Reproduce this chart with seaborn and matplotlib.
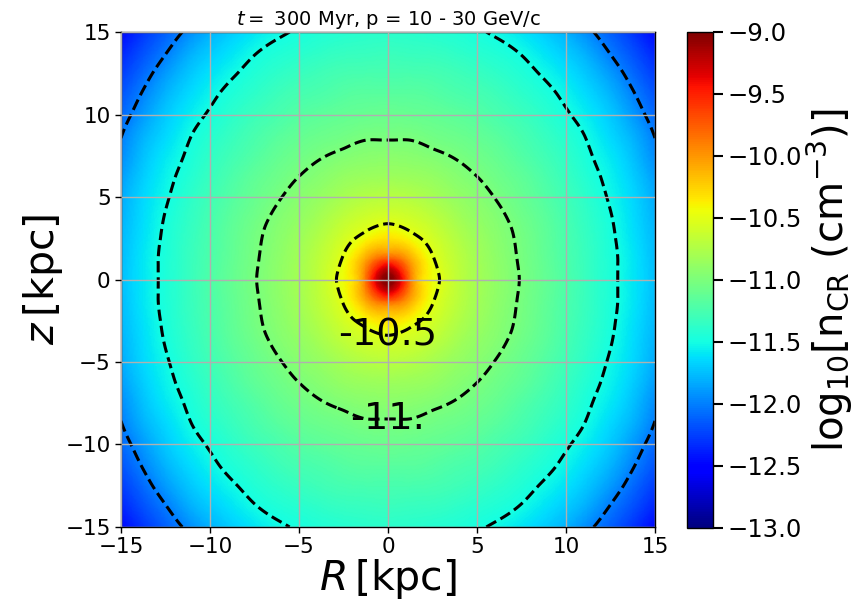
import numpy as np
import matplotlib
matplotlib.use("Agg")
import matplotlib.pyplot as plt
import matplotlib.tri as mtri
import seaborn as sns

# ---- data (one quadrant, R >= 0, z >= 0; the map is mirror-symmetric) ----
r_nodes = [0, 1.25, 2.5, 3.75, 5, 6.25, 7.5, 8.75, 10, 11.25, 12.5, 13.75, 15]   # kpc
z_nodes = [0, 1.25, 2.5, 3.75, 5, 6.25, 7.5, 8.75, 10, 11.25, 12.5, 13.75, 15]   # kpc
# log10 n_CR ; one list per z node, entries follow r_nodes
logn_z00p00 = [-9.00, -9.86, -10.44, -10.65, -10.80, -10.91, -11.01, -11.11, -11.22, -11.34, -11.46, -11.59, -11.75]
logn_z01p25 = [-9.72, -10.07, -10.48, -10.67, -10.81, -10.92, -11.02, -11.12, -11.23, -11.34, -11.46, -11.59, -11.76]
logn_z02p50 = [-10.32, -10.42, -10.58, -10.72, -10.84, -10.94, -11.03, -11.13, -11.24, -11.35, -11.47, -11.61, -11.77]
logn_z03p75 = [-10.56, -10.60, -10.68, -10.79, -10.89, -10.97, -11.06, -11.15, -11.26, -11.37, -11.49, -11.63, -11.80]
logn_z05p00 = [-10.71, -10.73, -10.79, -10.87, -10.94, -11.02, -11.10, -11.19, -11.29, -11.40, -11.52, -11.65, -11.83]
logn_z06p25 = [-10.84, -10.85, -10.88, -10.94, -11.00, -11.07, -11.14, -11.23, -11.33, -11.44, -11.55, -11.69, -11.88]
logn_z07p50 = [-10.93, -10.94, -10.97, -11.01, -11.06, -11.12, -11.20, -11.28, -11.37, -11.48, -11.59, -11.74, -11.95]
logn_z08p75 = [-11.02, -11.02, -11.05, -11.08, -11.12, -11.18, -11.25, -11.33, -11.42, -11.52, -11.65, -11.80, -12.01]
logn_z10p00 = [-11.09, -11.10, -11.12, -11.15, -11.19, -11.25, -11.31, -11.39, -11.48, -11.58, -11.71, -11.89, -12.09]
logn_z11p25 = [-11.17, -11.17, -11.19, -11.23, -11.26, -11.31, -11.38, -11.45, -11.54, -11.65, -11.79, -11.98, -12.17]
logn_z12p50 = [-11.25, -11.25, -11.26, -11.29, -11.33, -11.38, -11.44, -11.52, -11.61, -11.73, -11.89, -12.08, -12.26]
logn_z13p75 = [-11.32, -11.33, -11.34, -11.37, -11.41, -11.45, -11.51, -11.60, -11.70, -11.83, -12.01, -12.18, -12.36]
logn_z15p00 = [-11.40, -11.40, -11.42, -11.44, -11.48, -11.53, -11.60, -11.69, -11.80, -11.96, -12.12, -12.29, -12.47]

contour_levels = [-12.0, -11.5, -11.0, -10.5]
labelled_levels = [-11.0, -10.5]
label_spots = [(0.0, -3.4), (0.0, -8.5)]
xticks = [-15, -10, -5, 0, 5, 10, 15]
yticks = [-15, -10, -5, 0, 5, 10, 15]
cbar_ticks = [-13.0, -12.5, -12.0, -11.5, -11.0, -10.5, -10.0, -9.5, -9.0]
title = r"$t = $ 300 Myr, p = 10 - 30 GeV/c"

# ---- assemble the full (mirrored) grid ----
quad = np.array([logn_z00p00, logn_z01p25, logn_z02p50, logn_z03p75, logn_z05p00,
                 logn_z06p25, logn_z07p50, logn_z08p75, logn_z10p00, logn_z11p25,
                 logn_z12p50, logn_z13p75, logn_z15p00])
rq = np.array(r_nodes, float)
zq = np.array(z_nodes, float)
R_full = np.concatenate([-rq[:0:-1], rq])
Z_full = np.concatenate([-zq[:0:-1], zq])
half = np.concatenate([quad[:0:-1], quad], axis=0)
field = np.concatenate([half[:, :0:-1], half], axis=1)
RR, ZZ = np.meshgrid(R_full, Z_full)

# triangulation of the grid with mirror-symmetric diagonals
nR, nZ = len(R_full), len(Z_full)
tris = []
for i in range(nZ - 1):
    for j in range(nR - 1):
        a, b = i * nR + j, i * nR + j + 1
        c, d = (i + 1) * nR + j, (i + 1) * nR + j + 1
        rc = R_full[j] + R_full[j + 1]
        zc = Z_full[i] + Z_full[i + 1]
        if rc * zc > 0:
            tris += [[a, b, c], [b, d, c]]
        else:
            tris += [[a, b, d], [a, d, c]]
triang = mtri.Triangulation(RR.ravel(), ZZ.ravel(), np.array(tris))
interp = mtri.CubicTriInterpolator(triang, field.ravel(), kind="min_E")
tri_fine, field_fine = mtri.UniformTriRefiner(triang).refine_field(
    field.ravel(), triinterpolator=interp, subdiv=4)

# ---- style ----
sns.set_style("ticks", {"axes.grid": True, "grid.color": "#b0b0b0", "axes.edgecolor": "black",
                        "text.color": "black", "xtick.color": "black", "ytick.color": "black",
                        "axes.labelcolor": "black"})
plt.rcParams["font.family"] = ["DejaVu Sans"]
plt.rcParams["mathtext.fontset"] = "dejavusans"

fig = plt.figure(figsize=(8.6, 6.12), dpi=100)
ax = fig.add_axes([0.1407, 0.1389, 0.6209, 0.8088])
cax = fig.add_axes([0.7988, 0.1373, 0.0302, 0.8105])

vmin, vmax = -13.0, -9.0
cmap = plt.get_cmap("jet")
ax.tripcolor(tri_fine, field_fine, shading="gouraud", cmap=cmap,
             vmin=vmin, vmax=vmax, zorder=0, rasterized=True)
cs = ax.tricontour(tri_fine, field_fine, levels=contour_levels, colors="black",
                   linestyles="--", linewidths=2.2, zorder=2)
cs_lab = ax.tricontour(tri_fine, field_fine, levels=labelled_levels, colors="black",
                       linewidths=0.0, zorder=2)
ax.clabel(cs_lab, inline=False, manual=label_spots,
          fmt=lambda v: f"{v:.1f}".rstrip("0"), fontsize=27.5, colors="black")

ax.set_xlim(-15, 15)
ax.set_ylim(-15, 15)
ax.set_xticks(xticks)
ax.set_yticks(yticks)
ax.grid(True, color="#b0b0b0", linewidth=1.0, zorder=1)
ax.set_axisbelow(False)
ax.tick_params(labelsize=15.5, direction="out", length=4, width=1, color="black",
               labelcolor="black")
ax.set_xlabel(r"$R\,$[kpc]", fontsize=29.5, labelpad=0)
ax.set_ylabel(r"$z\,$[kpc]", fontsize=29.5, labelpad=0)
ax.set_title(title, fontsize=14, pad=5)
for s in ax.spines.values():
    s.set_color("black")
    s.set_linewidth(1.0)

sm = matplotlib.cm.ScalarMappable(norm=matplotlib.colors.Normalize(vmin, vmax), cmap=cmap)
cb = fig.colorbar(sm, cax=cax, ticks=cbar_ticks)
cb.ax.tick_params(labelsize=17.5, length=7, width=1.5, color="black", labelcolor="black")
cb.ax.set_yticklabels([f"{t:.1f}".replace("-", "\u2212") for t in cbar_ticks])
cb.set_label(r"$\mathrm{log}_{10}[\mathrm{n_{CR}}\ (\mathrm{cm}^{-3})]$", fontsize=29, labelpad=2)
cb.outline.set_edgecolor("black")
cb.outline.set_linewidth(1.0)

fig.savefig("out.png", dpi=100)
